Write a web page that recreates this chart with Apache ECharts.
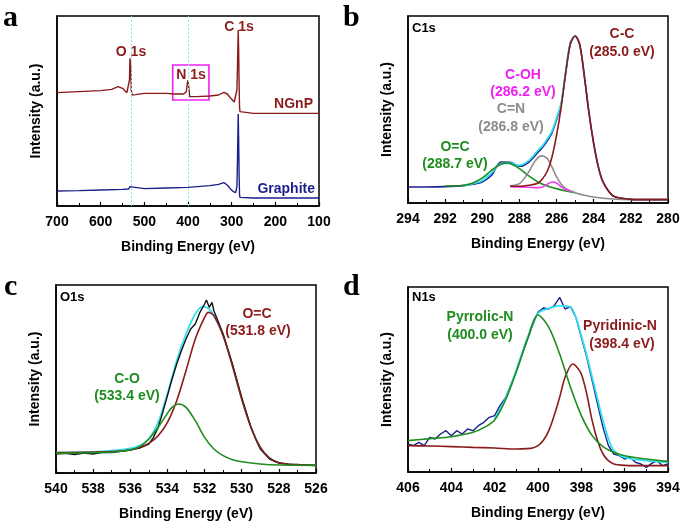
<!DOCTYPE html>
<html>
<head>
<meta charset="utf-8">
<script src="https://cdn.jsdelivr.net/npm/echarts@6/dist/echarts.min.js"></script>
<style>
html, body { margin: 0; background: #fff; }
#chart { width: 685px; height: 528px; }
</style>
</head>
<body>
<div id="chart"></div>
<script>
// ---- a: survey spectra ----
const aNgnpE = [700, 650, 600, 575, 560, 550, 540, 536, 534, 533, 532, 531, 530, 528, 520, 500, 450, 430, 410, 404, 402, 400, 398, 396, 393, 380, 350, 330, 318, 310, 300, 294, 290, 288, 287, 286, 285, 284, 283, 282, 281, 280, 250, 200, 100]
const aNgnpI = [340, 343, 346, 350, 358, 353, 340, 338, 378, 443, 448, 418, 348, 333, 334, 338, 338, 336, 336, 343, 363, 378, 353, 328, 325, 328, 330, 333, 341, 336, 320, 312, 318, 348, 398, 468, 528, 468, 368, 298, 283, 280, 278, 278, 278]
const aGraphE = [700, 650, 600, 550, 536, 533, 531, 500, 450, 400, 350, 330, 318, 310, 302, 296, 291, 288, 287, 286, 285, 284, 283, 282, 281, 280, 250, 100]
const aGraphI = [45, 46, 48, 50, 51, 58, 52, 52, 54, 56, 61, 65, 70, 63, 50, 43, 40, 58, 118, 198, 276, 198, 98, 33, 26, 25, 24, 24]
const aGuides = [531, 399]
const aBoxE = [435, 352]
const aBoxI = [423, 318]

// ---- b: C1s ----
const bRawE = [294, 293, 292, 291, 290.5, 290, 289.5, 289, 288.5, 288, 287.5, 287, 286.75, 286.5, 286.25, 286, 285.75, 285.5, 285.25, 285, 284.75, 284.5, 284.25, 284, 283.75, 283.5, 283, 282.5, 282, 281, 280]
const bRawI = [48, 48, 49, 52, 56, 63, 83, 123, 122, 110, 122, 152, 167, 186, 210, 250, 296, 394, 478, 500, 473, 378, 268, 178, 108, 63, 23, 14, 11, 10, 10]
const bEnvE = [291, 290.5, 290, 289.5, 289, 288.5, 288, 287.5, 287, 286.75, 286.5, 286.25, 286, 285.75, 285.5, 285.25, 285]
const bEnvI = [52, 58, 67, 90, 118, 119, 113, 127, 158, 172, 192, 215, 255, 300, 398, 482, 501]
const bCcE = [288.5, 288, 287.5, 287, 286.75, 286.5, 286.25, 286, 285.75, 285.5, 285.25, 285, 284.75, 284.5, 284.25, 284, 283.75, 283.5, 283, 282.5, 282, 281, 280]
const bCcI = [50, 50, 53, 59, 73, 95, 137, 203, 288, 393, 479, 500, 473, 378, 268, 178, 108, 63, 23, 14, 11, 10, 10]
const bCnE = [288.5, 288, 287.75, 287.5, 287.25, 287, 286.8, 286.5, 286.25, 286, 285.75, 285.5, 285, 284.5, 284, 283, 282, 281, 280]
const bCnI = [51, 58, 73, 93, 118, 136, 141, 133, 108, 78, 56, 43, 31, 23, 18, 12, 10, 10, 10]
const bCohE = [288.5, 288, 287.5, 287, 286.75, 286.5, 286.25, 286, 285.75, 285.5, 285.25]
const bCohI = [49, 48, 47, 46, 48, 56, 63, 60, 48, 40, 36]
const bOcE = [292, 291.5, 291, 290.5, 290, 289.5, 289, 288.7, 288.5, 288, 287.5, 287, 286.5, 286, 285.5, 285]
const bOcI = [51, 51, 53, 60, 75, 98, 116, 120, 118, 103, 81, 63, 51, 43, 36, 31]

// ---- c: O1s ----
const cRawE = [540, 539.5, 539, 538.5, 538, 537.5, 537, 536.5, 536, 535.5, 535, 534.75, 534.5, 534.25, 534, 533.75, 533.5, 533.25, 533, 532.75, 532.5, 532.25, 532, 531.9, 531.75, 531.6, 531.5, 531.25, 531, 530.75, 530.5, 530.25, 530, 529.75, 529.5, 529.25, 529, 528.5, 528, 527.5, 527, 526.5, 526]
const cRawI = [57, 59, 55, 60, 57, 62, 61, 65, 69, 75, 87, 107, 137, 182, 232, 282, 327, 367, 402, 432, 447, 482, 507, 519, 497, 512, 487, 452, 417, 372, 327, 277, 227, 182, 137, 102, 72, 42, 30, 26, 24, 23, 23]
const cEnvE = [540, 538, 537, 536, 535.5, 535, 534.5, 534, 533.5, 533, 532.5, 532.1, 531.75, 531.5, 531, 530.5, 530, 529.5, 529, 528.5, 528, 527, 526]
const cEnvI = [61, 63, 67, 74, 82, 102, 152, 237, 337, 417, 477, 499, 492, 472, 412, 322, 222, 137, 77, 45, 31, 25, 23]
const cOcE = [540, 537, 536, 535.5, 535, 534.5, 534, 533.5, 533, 532.5, 532, 531.8, 531.5, 531, 530.5, 530, 529.5, 529, 528.5, 528, 527, 526]
const cOcI = [61, 64, 69, 77, 89, 112, 152, 217, 307, 402, 467, 482, 472, 412, 322, 222, 137, 77, 45, 31, 25, 23]
const cCoE = [540, 538, 537, 536, 535.5, 535, 534.5, 534, 533.75, 533.4, 533, 532.5, 532, 531.5, 531, 530.5, 530, 529, 528, 526]
const cCoI = [59, 61, 63, 69, 79, 102, 137, 179, 197, 207, 197, 157, 107, 72, 52, 40, 34, 27, 24, 23]

// ---- d: N1s ----
const dRawE = [406, 405.75, 405.5, 405.25, 405, 404.75, 404.5, 404.25, 404, 403.75, 403.5, 403.25, 403, 402.75, 402.5, 402.25, 402, 401.75, 401.5, 401.25, 401, 400.75, 400.5, 400.25, 400, 399.75, 399.5, 399.25, 399, 398.75, 398.5, 398.25, 398, 397.75, 397.5, 397.25, 397, 396.75, 396.5, 396.25, 396, 395.75, 395.5, 395.25, 395, 394.75, 394.5, 394.25, 394]
const dRawI = [84, 79, 89, 79, 104, 99, 114, 124, 109, 124, 114, 129, 124, 139, 149, 164, 169, 200, 222, 262, 302, 350, 395, 440, 480, 492, 489, 499, 524, 489, 496, 464, 404, 344, 274, 204, 134, 79, 54, 49, 39, 44, 29, 24, 14, 26, 34, 19, 24]
const dEnvE = [402, 401.5, 401, 400.5, 400, 399.5, 399, 398.5, 398.25, 398, 397.75, 397.5, 397.25, 397, 396.75, 396.5, 396, 395, 394]
const dEnvI = [160, 220, 306, 400, 476, 491, 499, 494, 464, 409, 350, 284, 218, 154, 100, 64, 44, 34, 29]
const dPyrE = [406, 405, 404, 403, 402.5, 402, 401.5, 401, 400.5, 400, 399.5, 399, 398.5, 398, 397.5, 397, 396.5, 396, 395, 394]
const dPyrI = [94, 100, 106, 119, 133, 156, 216, 301, 396, 471, 434, 354, 254, 169, 109, 76, 59, 49, 39, 32]
const dPydE = [406, 405, 404, 403, 402, 401, 400.5, 400.25, 400, 399.75, 399.5, 399.25, 399, 398.75, 398.4, 398.25, 398, 397.75, 397.5, 397.25, 397, 396.75, 396.5, 396, 395, 394]
const dPydI = [79, 78, 76, 74, 72, 69, 70, 72, 79, 95, 124, 170, 224, 284, 324, 318, 294, 234, 154, 94, 54, 34, 24, 20, 19, 19]

const RED = '#8b1a1a'
const GREEN = '#1f8c1f'
const NAVY = '#1b1f8a'
const CYAN = '#30e0f0'
const GRAY = '#8c8c8c'
const MAGENTA = '#f03cf0'
const SANS = '"Liberation Sans", Arial, sans-serif'
const SERIF = '"Liberation Serif", "Times New Roman", serif'

function zip(xs, ys) {
    return xs.map((x, i) => [x, ys[i]])
}

function line(idx, xs, ys, color, smooth, width) {
    return {
        type: 'line',
        xAxisIndex: idx,
        yAxisIndex: idx,
        data: zip(xs, ys),
        showSymbol: false,
        smooth: smooth,
        lineStyle: { color: color, width: width || 1.6 },
        itemStyle: { color: color }
    }
}

function xAxisFor(idx, min, max, interval) {
    return {
        type: 'value',
        gridIndex: idx,
        min: min,
        max: max,
        interval: interval,
        inverse: true,
        name: 'Binding Energy (eV)',
        nameLocation: 'middle',
        nameGap: 34,
        nameTextStyle: { fontFamily: SANS, fontWeight: 'bold', fontSize: 14, color: '#000' },
        axisLine: { lineStyle: { color: '#000', width: 1.5 } },
        axisTick: { inside: true, length: 4, lineStyle: { color: '#000', width: 1.2 } },
        minorTick: { show: true, splitNumber: 2, length: 3, lineStyle: { color: '#000', width: 1 } },
        axisLabel: { fontFamily: SANS, fontWeight: 'bold', fontSize: 14, color: '#000', margin: 9 },
        splitLine: { show: false }
    }
}

function yAxisFor(idx, max) {
    return {
        type: 'value',
        gridIndex: idx,
        min: 0,
        max: max,
        name: 'Intensity (a.u.)',
        nameLocation: 'middle',
        nameGap: 14,
        nameRotate: 90,
        nameTextStyle: { fontFamily: SANS, fontWeight: 'bold', fontSize: 14, color: '#000' },
        axisLine: { show: true, lineStyle: { color: '#000', width: 1.5 } },
        axisTick: { show: false },
        axisLabel: { show: false },
        splitLine: { show: false }
    }
}

function label(x, y, text, color, align, size, font) {
    return {
        type: 'text',
        x: x,
        y: y,
        style: {
            text: text,
            fill: color,
            font: 'bold ' + (size || 14) + 'px ' + (font || SANS),
            textAlign: align || 'center',
            textVerticalAlign: 'middle'
        }
    }
}

const chart = echarts.init(document.getElementById('chart'))

// guide lines + N 1s box live on an empty helper series
const guideSeries = {
    type: 'line',
    xAxisIndex: 0,
    yAxisIndex: 0,
    data: [],
    color: '#8fe3ec',
    markLine: {
        silent: true,
        symbol: 'none',
        label: { show: false },
        lineStyle: { color: '#8fe3ec', type: [2, 2], width: 1, opacity: 1 },
        data: aGuides.map(e => ({ xAxis: e }))
    },
    markArea: {
        silent: true,
        itemStyle: { color: 'rgba(0,0,0,0)', borderColor: '#ee22ee', borderWidth: 1.6 },
        data: [[{ coord: [aBoxE[0], aBoxI[0]] }, { coord: [aBoxE[1], aBoxI[1]] }]]
    }
}

chart.setOption({
    animation: false,
    backgroundColor: '#fff',
    grid: [
        { left: 57, top: 16, width: 262, height: 190, show: true, borderColor: '#000', borderWidth: 1.5 },
        { left: 408, top: 16, width: 260, height: 187, show: true, borderColor: '#000', borderWidth: 1.5 },
        { left: 56, top: 285, width: 260, height: 188, show: true, borderColor: '#000', borderWidth: 1.5 },
        { left: 408, top: 287, width: 260, height: 185, show: true, borderColor: '#000', borderWidth: 1.5 }
    ],
    xAxis: [
        xAxisFor(0, 100, 700, 100),
        xAxisFor(1, 280, 294, 2),
        xAxisFor(2, 526, 540, 2),
        xAxisFor(3, 394, 406, 2)
    ],
    yAxis: [
        yAxisFor(0, 570),
        yAxisFor(1, 560),
        yAxisFor(2, 564),
        yAxisFor(3, 555)
    ],
    series: [
        guideSeries,
        line(0, aNgnpE, aNgnpI, RED, false, 1.4),
        line(0, aGraphE, aGraphI, NAVY, false, 1.4),

        line(1, bRawE, bRawI, NAVY, 0.3, 1.6),
        line(1, bEnvE, bEnvI, CYAN, 0.3, 1.8),
        line(1, bOcE, bOcI, GREEN, 0.3),
        line(1, bCnE, bCnI, GRAY, 0.3),
        line(1, bCohE, bCohI, MAGENTA, 0.3),
        line(1, bCcE, bCcI, RED, 0.3),

        line(2, cEnvE, cEnvI, CYAN, 0.3, 1.8),
        line(2, cRawE, cRawI, '#111', false, 1.4),
        line(2, cOcE, cOcI, RED, 0.3),
        line(2, cCoE, cCoI, GREEN, 0.3),

        line(3, dRawE, dRawI, NAVY, false, 1.4),
        line(3, dEnvE, dEnvI, CYAN, 0.3, 1.8),
        line(3, dPydE, dPydI, RED, 0.3),
        line(3, dPyrE, dPyrI, GREEN, 0.3)
    ],
    graphic: [
        label(3, 18, 'a', '#000', 'left', 30, SERIF),
        label(343, 18, 'b', '#000', 'left', 30, SERIF),
        label(4, 287, 'c', '#000', 'left', 30, SERIF),
        label(343, 287, 'd', '#000', 'left', 30, SERIF),

        label(131, 52, 'O 1s', RED),
        label(191, 75, 'N 1s', RED),
        label(239, 27, 'C 1s', RED),
        label(313, 104, 'NGnP', RED, 'right'),
        label(315, 189, 'Graphite', NAVY, 'right'),

        label(412, 28, 'C1s', '#000', 'left', 13),
        label(622, 34, 'C-C', RED),
        label(622, 52, '(285.0 eV)', RED),
        label(523, 75, 'C-OH', '#ee22ee'),
        label(523, 92, '(286.2 eV)', '#ee22ee'),
        label(511, 109, 'C=N', GRAY),
        label(511, 127, '(286.8 eV)', GRAY),
        label(455, 147, 'O=C', GREEN),
        label(455, 164, '(288.7 eV)', GREEN),

        label(60, 297, 'O1s', '#000', 'left', 13),
        label(257, 314, 'O=C', RED),
        label(258, 331, '(531.8 eV)', RED),
        label(127, 379, 'C-O', GREEN),
        label(127, 396, '(533.4 eV)', GREEN),

        label(412, 297, 'N1s', '#000', 'left', 13),
        label(480, 317, 'Pyrrolic-N', GREEN),
        label(480, 335, '(400.0 eV)', GREEN),
        label(620, 326, 'Pyridinic-N', RED),
        label(622, 344, '(398.4 eV)', RED)
    ]
})
</script>
</body>
</html>
